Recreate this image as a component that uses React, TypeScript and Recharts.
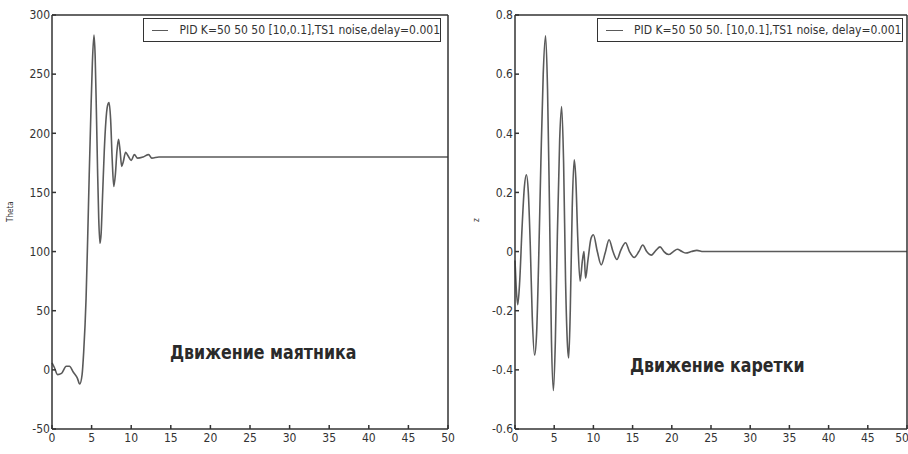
import { LineChart, Line, XAxis, YAxis, Legend } from 'recharts';

const FONT = "'DejaVu Sans Condensed', 'Liberation Sans Narrow', 'DejaVu Sans', sans-serif";
const INK = '#333';
const TRACE = '#5a5a5a';

const timeTicks = [0, 5, 10, 15, 20, 25, 30, 35, 40, 45, 50];
const thetaTicks = [-50, 0, 50, 100, 150, 200, 250, 300];
const zTicks = [-0.6, -0.4, -0.2, 0, 0.2, 0.4, 0.6, 0.8];

// pendulum angle
const thetaTime = [
  0, 0.3, 0.7, 1.2, 1.8, 2.2, 2.7, 3.2, 3.5, 3.8, 4.0, 4.3, 4.5, 4.7, 4.9, 5.1, 5.3,
  5.45, 5.6, 5.75, 5.9, 6.05, 6.2, 6.4, 6.6, 6.8, 7.0, 7.2, 7.4, 7.6, 7.8, 8.0, 8.2,
  8.4, 8.6, 8.8, 9.0, 9.3, 9.6, 10.0, 10.4, 10.8, 11.5, 12.2, 12.6, 13.5, 50,
];
const thetaValues = [
  6, 2, -4, -3, 3, 3, -2, -7, -12, -4, 15, 60, 110, 165, 215, 260, 283,
  265, 220, 170, 128, 107, 115, 150, 185, 210, 223, 226, 212, 178, 155, 165, 185,
  195, 185, 172, 176, 184, 181, 177, 182, 179, 180, 182, 179, 180, 180,
];

// cart position
const zTime = [
  0, 0.15, 0.35, 0.6, 0.9, 1.2, 1.45, 1.7, 1.95, 2.2, 2.5, 2.75, 3.0, 3.3, 3.6, 3.9,
  4.15, 4.4, 4.65, 4.9, 5.15, 5.4, 5.7, 5.95, 6.2, 6.45, 6.7, 6.85, 7.05, 7.3, 7.55,
  7.75, 8.0, 8.3, 8.6, 8.8, 9.0, 9.3, 9.7, 10.0, 10.5, 11.0, 11.5, 12.0, 12.5, 13.0,
  13.5, 14.1, 14.6, 15.2, 15.8, 16.3, 16.8, 17.4, 18.0, 18.5, 19.0, 19.6, 20.2, 20.7,
  21.3, 21.8, 22.5, 23.2, 24, 50,
];
const zValues = [
  -0.03, -0.12, -0.18, -0.1, 0.08, 0.22, 0.26, 0.2, 0.02, -0.22, -0.35, -0.28, -0.05, 0.3, 0.6, 0.73,
  0.55, 0.15, -0.3, -0.47, -0.3, 0.05, 0.38, 0.49, 0.3, -0.1, -0.32, -0.36, -0.2, 0.15, 0.31,
  0.25, 0.05, -0.1, -0.03, 0.0, -0.09, -0.03, 0.045, 0.057, 0.0, -0.045, -0.005, 0.04, 0.0, -0.027,
  0.005, 0.03, 0.0, -0.02, 0.0, 0.022, 0.0, -0.012, 0.005, 0.016, 0, -0.01, 0, 0.008,
  0, -0.005, 0, 0.004, 0, 0,
];

const thetaData = thetaTime.map((t, i) => ({ t, v: thetaValues[i] }));
const zData = zTime.map((t, i) => ({ t, v: zValues[i] }));

function LegendBox({ text }: { text: string }) {
  return (
    <div
      style={{
        border: '1.5px solid #333',
        background: '#fff',
        height: 24,
        display: 'flex',
        alignItems: 'center',
        fontFamily: FONT,
        fontSize: 12,
        color: INK,
        whiteSpace: 'nowrap',
        boxSizing: 'border-box',
        paddingLeft: 8,
      }}
    >
      <span style={{ display: 'inline-block', width: 17, borderTop: `1.5px solid ${TRACE}`, marginRight: 11 }} />
      {text}
    </div>
  );
}

type PanelProps = {
  data: { t: number; v: number }[];
  yTicks: number[];
  yLabel: string;
  labelOffset: number;
  legend: string;
  width: number;
  yWidth: number;
  rightMargin: number;
  legendLeft: number;
  legendWidth: number;
};

function Panel(p: PanelProps) {
  const fmt = (v: number) => (Math.abs(v) < 1 ? (v === 0 ? '0' : v.toFixed(1)) : String(v));
  const yDomain = [p.yTicks[0], p.yTicks[p.yTicks.length - 1]];
  return (
    <LineChart width={p.width} height={454} data={p.data} margin={{ top: 14, right: p.rightMargin, bottom: 0, left: 0 }}>
      <XAxis
        dataKey="t"
        type="number"
        domain={[0, 50]}
        ticks={timeTicks}
        height={25}
        tickSize={-4}
        tickMargin={8}
        stroke={INK}
        strokeWidth={1.5}
        tick={{ fontSize: 12, fontFamily: FONT, fill: INK }}
      />
      <XAxis
        xAxisId="top"
        dataKey="t"
        type="number"
        orientation="top"
        domain={[0, 50]}
        ticks={timeTicks}
        height={1}
        tickSize={-4}
        tick={false}
        stroke={INK}
        strokeWidth={1.5}
      />
      <YAxis
        type="number"
        domain={yDomain}
        ticks={p.yTicks}
        width={p.yWidth}
        tickSize={-4}
        tickMargin={6}
        tickFormatter={fmt}
        stroke={INK}
        strokeWidth={1.5}
        tick={{ fontSize: 12, fontFamily: FONT, fill: INK }}
        label={{ value: p.yLabel, angle: -90, position: 'insideLeft', offset: p.labelOffset, fontSize: 8, fontFamily: FONT, fill: INK }}
      />
      <YAxis
        yAxisId="right"
        orientation="right"
        type="number"
        domain={yDomain}
        ticks={p.yTicks}
        width={1}
        tickSize={-4}
        tick={false}
        stroke={INK}
        strokeWidth={1.5}
      />
      <Legend
        layout="vertical"
        align="center"
        verticalAlign="middle"
        wrapperStyle={{ left: p.legendLeft, top: 18, width: p.legendWidth, height: 24 }}
        content={() => <LegendBox text={p.legend} />}
      />
      <Line
        dataKey="v"
        type="monotone"
        stroke={TRACE}
        strokeWidth={1.6}
        dot={false}
        isAnimationActive={false}
      />
    </LineChart>
  );
}

const noteStyle: React.CSSProperties = {
  position: 'absolute',
  fontFamily: FONT,
  fontWeight: 'bold',
  fontSize: 20,
  color: '#2a2a2a',
  whiteSpace: 'nowrap',
  transform: 'scaleX(0.88)',
  transformOrigin: 'left center',
};

export default function App() {
  return (
    <div style={{ position: 'absolute', left: 0, top: 0, width: 908, height: 454, background: '#fff', overflow: 'hidden' }}>
      <div style={{ position: 'absolute', left: 0, top: 0 }}>
        <Panel
          data={thetaData}
          yTicks={thetaTicks}
          yLabel="Theta"
          labelOffset={10}
          legend="PID K=50 50 50 [10,0.1],TS1 noise,delay=0.001"
          width={460}
          yWidth={52}
          rightMargin={11}
          legendLeft={143}
          legendWidth={298}
        />
      </div>
      <div style={{ position: 'absolute', left: 460, top: 0 }}>
        <Panel
          data={zData}
          yTicks={zTicks}
          yLabel="z"
          labelOffset={16}
          legend="PID K=50 50 50. [10,0.1],TS1 noise, delay=0.001"
          width={448}
          yWidth={55}
          rightMargin={0}
          legendLeft={137}
          legendWidth={306}
        />
      </div>
      <div style={{ ...noteStyle, left: 170, top: 340 }}>Движение маятника</div>
      <div style={{ ...noteStyle, left: 630, top: 353 }}>Движение каретки</div>
    </div>
  );
}
